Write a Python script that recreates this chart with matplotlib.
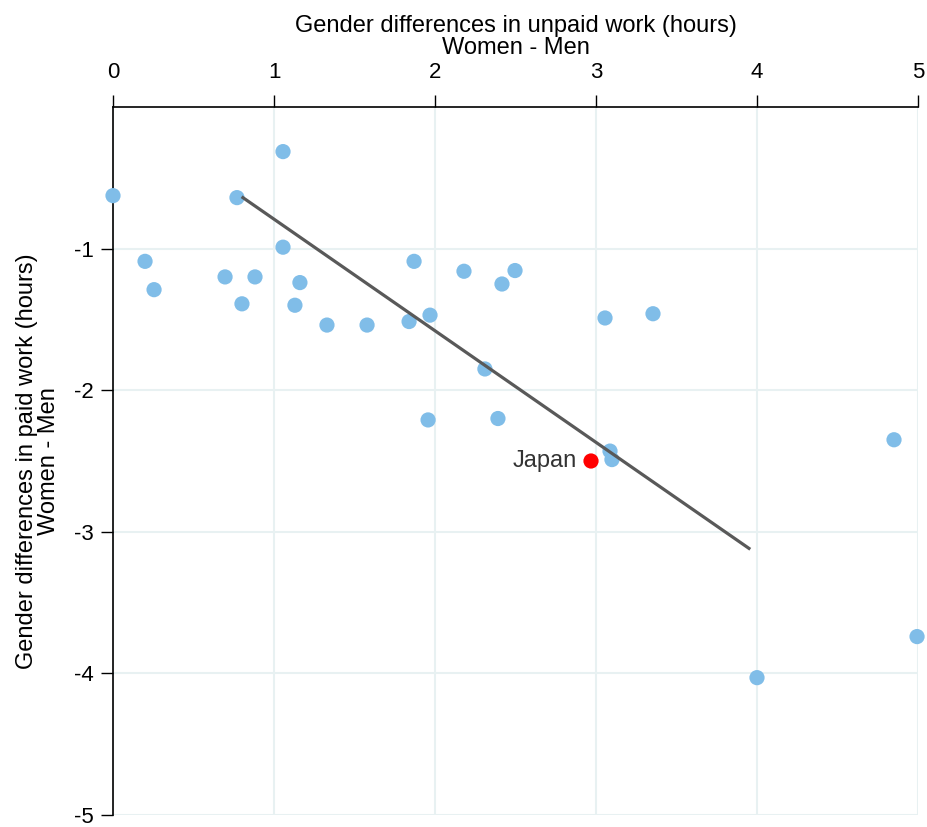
import matplotlib
matplotlib.use("Agg")
import matplotlib.pyplot as plt
import numpy as np

plt.rcParams["font.family"] = ["Liberation Sans", "DejaVu Sans"]
plt.rcParams["axes.unicode_minus"] = False

# ecarts femmes - hommes (heures)
non_remunere = [0.0, 1.056, 0.770, 0.199, 0.255, 0.696, 0.882, 0.801, 1.056, 1.161,
                1.13, 1.329, 1.578, 1.839, 1.87, 1.969, 1.957, 2.18, 2.416, 2.497,
                2.31, 2.391, 3.056, 3.354, 3.087, 3.099, 4.851, 4.0, 4.994]
remunere = [-0.626, -0.315, -0.64, -1.09, -1.29, -1.20, -1.20, -1.39, -0.99, -1.24,
            -1.40, -1.54, -1.54, -1.515, -1.09, -1.47, -2.21, -1.16, -1.25, -1.155,
            -1.85, -2.20, -1.49, -1.46, -2.43, -2.49, -2.35, -4.03, -3.74]
japon = (2.969, -2.50)
tendance_x = [0.807, 3.95]
tendance_y = [-0.64, -3.117]

BLEU = "#80bde8"
GRILLE = "#e8f1f2"

fig = plt.figure(figsize=(9.27, 8.27), dpi=100)
ax = fig.add_axes([113 / 927, 12 / 827, 805 / 927, 708 / 827])

ax.scatter(non_remunere, remunere, s=120, color=BLEU, edgecolors="none", zorder=3, clip_on=False)
ax.plot(tendance_x, tendance_y, color="#595959", lw=2.3, zorder=4)
ax.scatter([japon[0]], [japon[1]], s=120, color="#ff0000", edgecolors="none", zorder=5)
ax.text(japon[0] - 0.09, japon[1], "Japan", ha="right", va="center", fontsize=17, color="#333333")

ax.set_xlim(0, 5)
ax.set_ylim(-5, 0)
ax.set_xticks(range(0, 6))
ax.set_yticks(range(-5, 0))
ax.xaxis.tick_top()
ax.xaxis.set_label_position("top")
ax.tick_params(axis="both", length=9, width=1.0, labelsize=16)
ax.tick_params(axis="x", pad=8)
ax.tick_params(axis="y", pad=5)
ax.grid(True, color=GRILLE, lw=1.5, zorder=0)
ax.set_axisbelow(True)

for cote in ["right", "bottom"]:
    ax.spines[cote].set_visible(False)
for cote in ["left", "top"]:
    ax.spines[cote].set_linewidth(1.2)

ax.set_xlabel("Gender differences in unpaid work (hours)\nWomen - Men", fontsize=17, labelpad=6, linespacing=1.0)
ax.set_ylabel("Gender differences in paid work (hours)\nWomen - Men", fontsize=17, labelpad=10, linespacing=1.0)

fig.savefig("out.png", dpi=100)
